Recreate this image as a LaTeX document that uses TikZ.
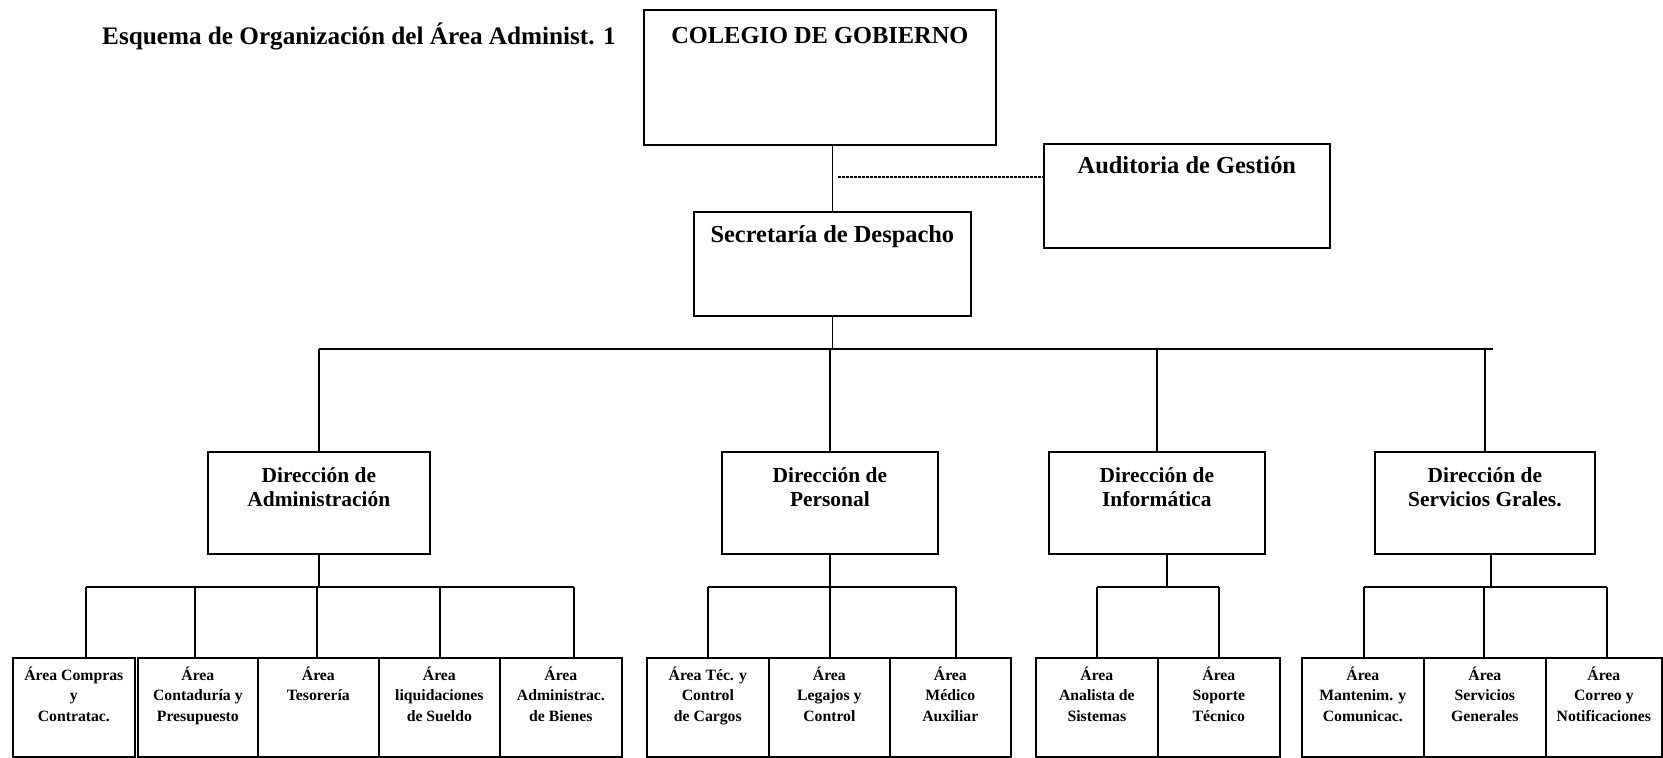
\documentclass[tikz,border=0pt]{standalone}
\usepackage{fontspec}
\setmainfont{Liberation Serif}
\begin{document}
\begin{tikzpicture}[x=1bp,y=-1bp,
  box/.style={draw, line width=1.7bp, inner sep=0pt, anchor=north west},
  conn/.style={line width=1.7bp},
  dashline/.style={line width=1.3bp, dash pattern=on 2.5bp off 1.5bp},
  big/.style={font=\bfseries\fontsize{24.5}{28}\selectfont},
  mid/.style={font=\bfseries\fontsize{21.5}{24.5}\selectfont, align=center},
  small/.style={font=\bfseries\fontsize{15.8}{20.5}\selectfont, align=center},
  inlbl/.style={anchor=north, inner sep=0pt}]
\useasboundingbox (0,0) rectangle (1663,758);

% title
\node[font=\bfseries\fontsize{25.3}{29}\selectfont, anchor=west, inner sep=0pt] (title) at (102,36) {Esquema de Organización del Área Administ. 1};

% top level
\node[box, minimum width=352bp, minimum height=135bp,
  label={[big,inlbl,yshift=-18bp]north:{COLEGIO DE GOBIERNO}}] (col) at (643,9) {};
\node[box, minimum width=286bp, minimum height=104bp,
  label={[big,inlbl,yshift=-13bp]north:{Auditoria de Gestión}}] (aud) at (1043,143) {};
\node[box, minimum width=277bp, minimum height=104bp,
  label={[big,inlbl,yshift=-14bp]north:{Secretaría de Despacho}}] (sec) at (693,211) {};

% directors
\node[box, minimum width=222bp, minimum height=102bp,
  label={[mid,inlbl,yshift=-16bp]north:{Dirección de\\Administración}}] (dadm) at (207,451) {};
\node[box, minimum width=216bp, minimum height=102bp,
  label={[mid,inlbl,yshift=-16bp]north:{Dirección de\\Personal}}] (dper) at (721,451) {};
\node[box, minimum width=216bp, minimum height=102bp,
  label={[mid,inlbl,yshift=-16bp]north:{Dirección de\\Informática}}] (dinf) at (1048,451) {};
\node[box, minimum width=220bp, minimum height=102bp,
  label={[mid,inlbl,yshift=-16bp]north:{Dirección de\\Servicios Grales.}}] (dser) at (1374,451) {};

% areas - administracion
\node[box, minimum width=122bp, minimum height=99bp,
  label={[small,inlbl,yshift=-9.5bp]north:{Área Compras\\y\\Contratac.}}] (a1) at (12,657) {};
\node[box, minimum width=120bp, minimum height=99bp,
  label={[small,inlbl,yshift=-9.5bp]north:{Área\\Contaduría y\\Presupuesto}}] (a2) at (137,657) {};
\node[box, minimum width=121bp, minimum height=99bp,
  label={[small,inlbl,yshift=-9.5bp]north:{Área\\Tesorería}}] (a3) at (257,657) {};
\node[box, minimum width=121bp, minimum height=99bp,
  label={[small,inlbl,yshift=-9.5bp]north:{Área\\liquidaciones\\de Sueldo}}] (a4) at (378,657) {};
\node[box, minimum width=122bp, minimum height=99bp,
  label={[small,inlbl,yshift=-9.5bp]north:{Área\\Administrac.\\de Bienes}}] (a5) at (499,657) {};

% areas - personal
\node[box, minimum width=122bp, minimum height=99bp,
  label={[small,inlbl,yshift=-9.5bp]north:{Área Téc. y\\Control\\de Cargos}}] (p1) at (646,657) {};
\node[box, minimum width=121bp, minimum height=99bp,
  label={[small,inlbl,yshift=-9.5bp]north:{Área\\Legajos y\\Control}}] (p2) at (768,657) {};
\node[box, minimum width=121bp, minimum height=99bp,
  label={[small,inlbl,yshift=-9.5bp]north:{Área\\Médico\\Auxiliar}}] (p3) at (889,657) {};

% areas - informatica
\node[box, minimum width=122bp, minimum height=99bp,
  label={[small,inlbl,yshift=-9.5bp]north:{Área\\Analista de\\Sistemas}}] (i1) at (1035,657) {};
\node[box, minimum width=122bp, minimum height=99bp,
  label={[small,inlbl,yshift=-9.5bp]north:{Área\\Soporte\\Técnico}}] (i2) at (1157,657) {};

% areas - servicios
\node[box, minimum width=122bp, minimum height=99bp,
  label={[small,inlbl,yshift=-9.5bp]north:{Área\\Mantenim. y\\Comunicac.}}] (s1) at (1301,657) {};
\node[box, minimum width=122bp, minimum height=99bp,
  label={[small,inlbl,yshift=-9.5bp]north:{Área\\Servicios\\Generales}}] (s2) at (1423,657) {};
\node[box, minimum width=116bp, minimum height=99bp,
  label={[small,inlbl,yshift=-9.5bp]north:{Área\\Correo y\\Notificaciones}}] (s3) at (1545,657) {};

% top connectors
\draw[conn] (col.south -| sec.north) -- (sec.north);
\coordinate (dl) at (838,177);
\draw[dashline] (dl) -- (dl -| aud.west);

% main bus
\coordinate (bus) at (0,349);
\coordinate (busR) at (1493,349);
\draw[conn] (sec.south) -- (sec.south |- bus);
\draw[conn] (dadm.north |- bus) -- (busR);
\foreach \n in {dadm,dper,dinf,dser} \draw[conn] (\n.north) -- (\n.north |- bus);

% sub buses
\coordinate (sb) at (0,587);
% administracion
\coordinate (ca1) at (86,587);
\coordinate (ca2) at (195,587);
\coordinate (ca3) at (317,587);
\coordinate (ca4) at (440,587);
\coordinate (ca5) at (574,587);
\draw[conn] (dadm.south) -- (dadm.south |- sb);
\draw[conn] (ca1) -- (ca5);
\draw[conn] (ca1) -- (ca1 |- a1.north);
\draw[conn] (ca2) -- (ca2 |- a2.north);
\draw[conn] (ca3) -- (ca3 |- a3.north);
\draw[conn] (ca4) -- (ca4 |- a4.north);
\draw[conn] (ca5) -- (ca5 |- a5.north);
% personal
\coordinate (cp1) at (708,587);
\coordinate (cp2) at (830,587);
\coordinate (cp3) at (956,587);
\draw[conn] (dper.south) -- (dper.south |- sb);
\draw[conn] (cp1) -- (cp3);
\draw[conn] (cp1) -- (cp1 |- p1.north);
\draw[conn] (cp2) -- (cp2 |- p2.north);
\draw[conn] (cp3) -- (cp3 |- p3.north);
% informatica
\coordinate (ci0) at (1167,553);
\coordinate (ci1) at (1097,587);
\coordinate (ci2) at (1219,587);
\draw[conn] (ci0) -- (ci0 |- sb);
\draw[conn] (ci1) -- (ci2);
\draw[conn] (ci1) -- (ci1 |- i1.north);
\draw[conn] (ci2) -- (ci2 |- i2.north);
% servicios
\coordinate (cs0) at (1491,553);
\coordinate (cs1) at (1364,587);
\coordinate (cs2) at (1484,587);
\coordinate (cs3) at (1607,587);
\draw[conn] (cs0) -- (cs0 |- sb);
\draw[conn] (cs1) -- (cs3);
\draw[conn] (cs1) -- (cs1 |- s1.north);
\draw[conn] (cs2) -- (cs2 |- s2.north);
\draw[conn] (cs3) -- (cs3 |- s3.north);
\end{tikzpicture}
\end{document}
